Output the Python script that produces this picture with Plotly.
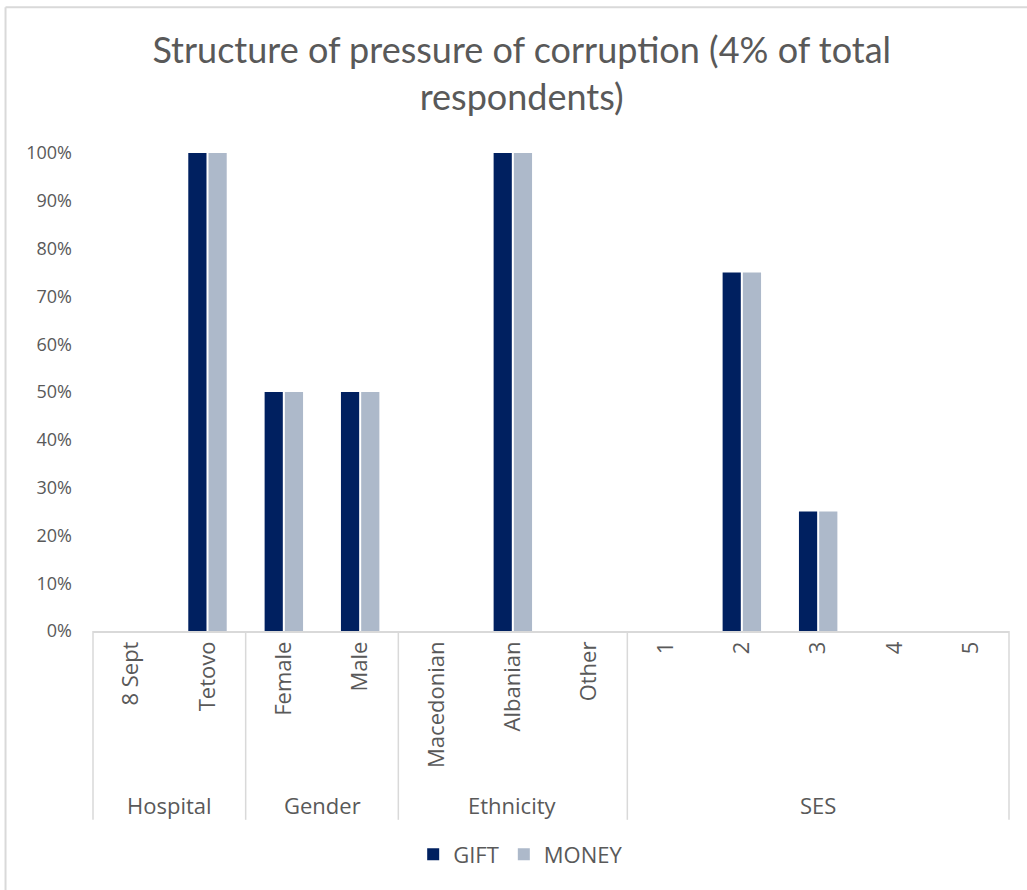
import plotly.graph_objects as go

# Categories, in display order, with the group each belongs to
categories = ["8 Sept", "Tetovo", "Female", "Male", "Macedonian", "Albanian", "Other",
              "1", "2", "3", "4", "5"]
groups = ["Hospital", "Gender", "Ethnicity", "SES"]
group_sizes = [2, 2, 3, 5]

# Share of respondents under corruption pressure (fraction)
gift = [0, 1.00, 0.50, 0.50, 0, 1.00, 0, 0, 0.75, 0.25, 0, 0]
money = [0, 1.00, 0.50, 0.50, 0, 1.00, 0, 0, 0.75, 0.25, 0, 0]

TITLE_FONT = "Lato"
FONT = "Open Sans"
TEXT = "#595959"
LINE = "#d9d9d9"

fig = go.Figure()
fig.add_trace(go.Bar(name="GIFT", x=categories, y=gift, marker_color="#002060",
                     marker_line_width=0))
fig.add_trace(go.Bar(name="MONEY", x=categories, y=money, marker_color="#adb9ca",
                     marker_line_width=0))

n = len(categories)
shapes = []
annotations = []
# separators running down through the category labels
bounds = [0]
for s in group_sizes:
    bounds.append(bounds[-1] + s)
for b in bounds:
    shapes.append(dict(type="line", xref="paper", yref="paper",
                       x0=b / n, x1=b / n, y0=0, y1=-0.395,
                       line=dict(color=LINE, width=1.5)))
for g, a, b in zip(groups, bounds[:-1], bounds[1:]):
    annotations.append(dict(text=g, xref="paper", yref="paper",
                            x=(a + b) / 2 / n, y=-0.364, showarrow=False,
                            xanchor="center", yanchor="middle",
                            font=dict(family=FONT, size=22, color=TEXT)))

# chart frame (left and top edges)
shapes.append(dict(type="line", xref="paper", yref="paper", x0=-0.0955, x1=1.1,
                   y0=1.305, y1=1.305, line=dict(color=LINE, width=2)))
shapes.append(dict(type="line", xref="paper", yref="paper", x0=-0.0955, x1=-0.0955,
                   y0=1.305, y1=-0.6, line=dict(color=LINE, width=2)))

fig.update_layout(
    width=1027, height=890,
    margin=dict(l=93, r=18, t=153, b=259),
    paper_bgcolor="white", plot_bgcolor="white",
    title=dict(text="Structure of pressure of corruption (4% of total<br>respondents)",
               x=0.508, xanchor="center", y=0.929, yanchor="middle",
               font=dict(family=TITLE_FONT, size=36, color=TEXT)),
    barmode="group", bargap=0.47, bargroupgap=0.1,
    showlegend=True,
    legend=dict(orientation="h", xref="container", x=0.507, xanchor="center",
                yref="container", y=0.04, yanchor="middle",
                font=dict(family=FONT, size=22, color=TEXT),
                itemwidth=30, traceorder="normal"),
    xaxis=dict(type="category", tickangle=-90, showline=True, linecolor=LINE,
               linewidth=1.5, ticks="", showgrid=False,
               tickfont=dict(family=FONT, size=22, color=TEXT)),
    yaxis=dict(range=[0, 1], tickvals=[i / 10 for i in range(11)], tickformat=".0%",
               showgrid=False, zeroline=False, showline=False, ticks="",
               ticklabelstandoff=20,
               tickfont=dict(family=FONT, size=18, color=TEXT)),
    shapes=shapes, annotations=annotations,
)

fig.write_html("out.html")
